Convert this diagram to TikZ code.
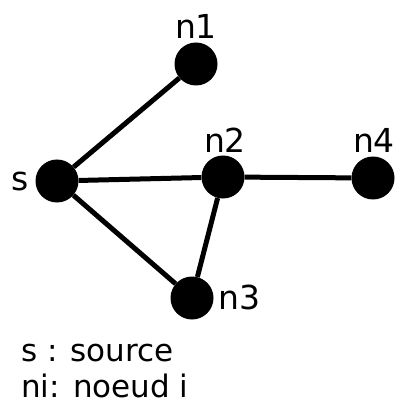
\documentclass[tikz,border=0pt]{standalone}
\usepackage{fontspec}
\setmainfont{DejaVu Sans}

\begin{document}
\begin{tikzpicture}[
  x=1pt,
  y=-1pt,
  vertex/.style={circle, fill=black, inner sep=0pt, minimum size=43pt},
  edge/.style={line width=5pt},
  tag/.style={anchor=base, inner sep=0pt, font=\fontsize{33}{40}\selectfont},
  legend/.style={anchor=base west, inner sep=0pt, font=\fontsize{31}{40}\selectfont}
]
  \useasboundingbox (0,0) rectangle (396,403);

  \node[vertex] (s)  at (57,181) {};
  \node[vertex] (n1) at (196,64) {};
  \node[vertex] (n2) at (223,177) {};
  \node[vertex] (n3) at (192,298) {};
  \node[vertex] (n4) at (373,178) {};

  \draw[edge] (s) -- (n1);
  \draw[edge] (s) -- (n2);
  \draw[edge] (s) -- (n3);
  \draw[edge] (n2) -- (n4);
  \draw[edge] (n2) -- (n3);

  \node[tag] (ls)  at (20,190)  {s};
  \node[tag] (ln1) at (196,39)  {n1};
  \node[tag] (ln2) at (225,153) {n2};
  \node[tag] (ln4) at (374,153) {n4};
  \node[tag, anchor=base west] (ln3) at (218,309) {n3};

  \node[legend] (key1) at (21,361) {s : source};
  \node[legend] (key2) at (21,397) {ni: noeud i};
\end{tikzpicture}
\end{document}
